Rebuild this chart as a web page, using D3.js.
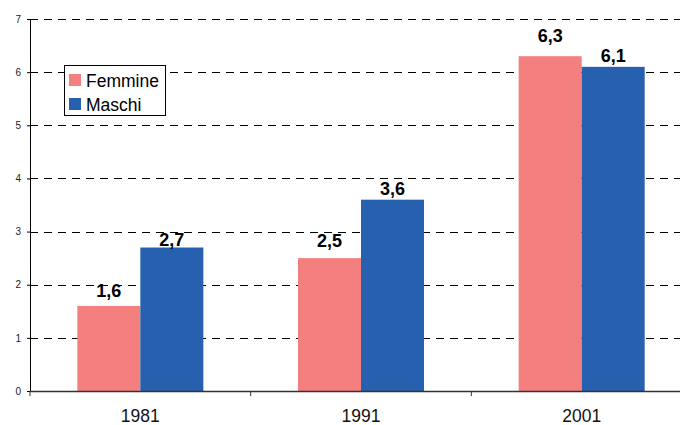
<!DOCTYPE html>
<html>
<head>
  <meta charset="utf-8">
  <script src="https://d3js.org/d3.v7.min.js"></script>
  <style>
    body { margin: 0; background: #fff; }
    text { font-family: Arial, "Liberation Sans", sans-serif; }
  </style>
</head>
<body>
<svg id="chart"></svg>
<script>
  const years = ["1981", "1991", "2001"];
  const series = ["Femmine", "Maschi"];
  const femmine = [1.6, 2.5, 6.3];
  const maschi = [2.7, 3.6, 6.1];
  const yTicks = [0, 1, 2, 3, 4, 5, 6, 7];
  const colors = ["#F47F7F", "#2660AE"];
  // label lift above each bar (px), labels were nudged by hand in the original
  const labelGap = [[9, 2], [11, 5], [14, 5]];

  const data = years.map((y, i) => ({ year: y, values: [femmine[i], maschi[i]] }));

  const width = 680, height = 425;
  const margin = { top: 19, left: 30, bottom: 34 };
  const plotW = 662;

  const svg = d3.select("#chart").attr("width", width).attr("height", height);

  const x = d3.scaleBand().domain(years).range([margin.left, margin.left + plotW]);
  const x1 = d3.scaleBand().domain(series).range([0, 126]);
  const y = d3.scaleLinear().domain([0, 7]).range([height - margin.bottom, margin.top]);

  // dashed gridlines
  svg.append("g")
    .selectAll("line")
    .data(yTicks.filter(d => d > 0))
    .enter()
    .append("line")
    .attr("x1", margin.left)
    .attr("x2", margin.left + plotW)
    .attr("y1", d => Math.round(y(d)) + 0.5)
    .attr("y2", d => Math.round(y(d)) + 0.5)
    .attr("stroke", "#000")
    .attr("stroke-width", 1)
    .attr("stroke-dasharray", "8,6");

  // bars
  const groups = svg.append("g")
    .selectAll("g")
    .data(data)
    .enter()
    .append("g")
    .attr("transform", d => `translate(${x(d.year) + x.bandwidth() / 2 - 63}, 0)`);

  groups.selectAll("rect")
    .data(d => d.values.map((v, i) => ({ key: series[i], value: v, i })))
    .enter()
    .append("rect")
    .attr("x", d => x1(d.key))
    .attr("y", d => y(d.value))
    .attr("width", x1.bandwidth())
    .attr("height", d => y(0) - y(d.value))
    .attr("fill", d => colors[d.i]);

  groups.selectAll("text")
    .data((d, j) => d.values.map((v, i) => ({ key: series[i], value: v, gap: labelGap[j][i] })))
    .enter()
    .append("text")
    .attr("x", d => x1(d.key) + x1.bandwidth() / 2)
    .attr("y", d => y(d.value) - d.gap)
    .attr("text-anchor", "middle")
    .style("font-size", "18px")
    .style("font-weight", "bold")
    .text(d => String(d.value).replace(".", ","));

  // y axis
  const yAxis = svg.append("g")
    .attr("transform", `translate(${margin.left},0)`)
    .call(d3.axisLeft(y).tickValues(yTicks).tickFormat(d3.format("d")).tickSize(3).tickPadding(6));
  yAxis.select(".domain").attr("stroke", "#000");
  yAxis.selectAll("text").style("font-size", "10px").attr("fill", "#222")
    .style("font-family", "Arial, 'Liberation Sans', sans-serif");

  // x axis
  const xAxis = svg.append("g")
    .attr("transform", `translate(0,${y(0)})`)
    .call(d3.axisBottom(x).tickSize(0).tickPadding(19));
  xAxis.select(".domain").attr("stroke", "#333").attr("stroke-width", 1.5);
  xAxis.selectAll("text").style("font-size", "17.5px").attr("fill", "#111")
    .style("font-family", "Arial, 'Liberation Sans', sans-serif");

  // category separator ticks
  svg.append("g")
    .selectAll("line")
    .data(years)
    .enter()
    .append("line")
    .attr("x1", d => x(d))
    .attr("x2", d => x(d))
    .attr("y1", y(0))
    .attr("y2", y(0) + 5)
    .attr("stroke", "#333");

  // legend
  const legend = svg.append("g").attr("transform", "translate(64.5,65.5)");
  legend.append("rect")
    .attr("width", 101)
    .attr("height", 50)
    .attr("fill", "#fff")
    .attr("stroke", "#000");
  const items = legend.selectAll(".item")
    .data(series)
    .enter()
    .append("g")
    .attr("transform", (d, i) => `translate(4.5,${8.5 + i * 24})`);
  items.append("rect")
    .attr("width", 12)
    .attr("height", 12)
    .attr("fill", (d, i) => colors[i]);
  items.append("text")
    .attr("x", 17)
    .attr("y", 12.5)
    .style("font-size", "17.5px")
    .text(d => d);
</script>
</body>
</html>
